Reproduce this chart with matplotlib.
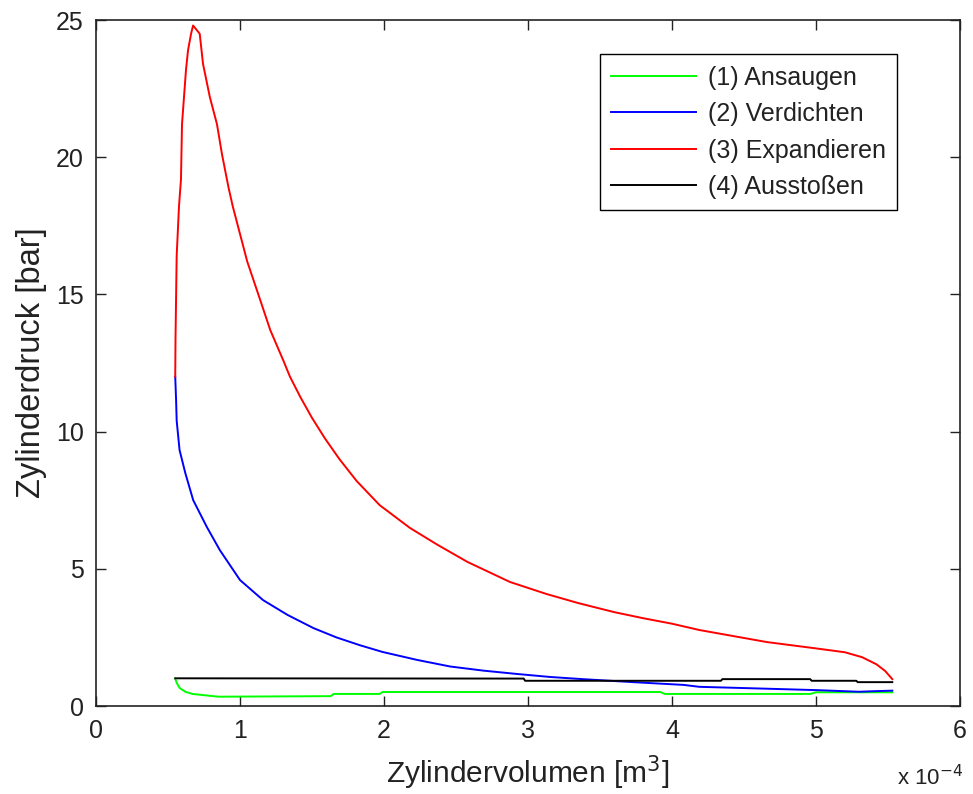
import matplotlib
matplotlib.use('Agg')
import matplotlib.pyplot as plt
import numpy as np

plt.rcParams['font.family'] = ['Liberation Sans', 'DejaVu Sans']

# ---------- Data (volume in 1e-4 m^3, pressure in bar) ----------
v_ansaugen = [0.55, 0.56, 0.58, 0.62, 0.67, 0.85, 1.63, 1.65, 1.97, 1.99,
              3.92, 3.95, 4.96, 5.00, 5.53]
p_ansaugen = [1.00, 0.85, 0.66, 0.52, 0.44, 0.34, 0.36, 0.44, 0.44, 0.51,
              0.51, 0.44, 0.44, 0.50, 0.50]

v_verdichten = [5.53, 5.40, 5.30, 5.00, 4.60, 4.19, 4.08, 3.73, 3.38, 3.15,
                2.92, 2.69, 2.46, 2.23, 1.99, 1.83, 1.67, 1.51, 1.33, 1.16,
                1.00, 0.86, 0.77, 0.675, 0.62, 0.58, 0.56, 0.556, 0.55]
p_verdichten = [0.56, 0.54, 0.52, 0.58, 0.64, 0.70, 0.77, 0.87, 0.98, 1.06,
                1.17, 1.29, 1.44, 1.68, 1.97, 2.22, 2.50, 2.84, 3.32, 3.86,
                4.59, 5.68, 6.52, 7.50, 8.49, 9.33, 10.4, 11.15, 12.0]

v_expandieren = [0.55, 0.552, 0.56, 0.576, 0.59, 0.597, 0.611, 0.625, 0.639,
                 0.66, 0.674, 0.72, 0.743, 0.79, 0.84, 0.875, 0.92, 0.95, 1.00,
                 1.05, 1.14, 1.21, 1.30, 1.347, 1.42, 1.50, 1.59, 1.69, 1.81,
                 1.97, 2.18, 2.37, 2.58, 2.875, 3.13, 3.35, 3.60, 3.80, 4.00,
                 4.19, 4.66, 5.00, 5.20, 5.32, 5.42, 5.48, 5.53]
p_expandieren = [12.0, 13.4, 16.4, 18.2, 19.2, 21.2, 22.2, 23.2, 23.9,
                 24.5, 24.8, 24.5, 23.4, 22.2, 21.2, 20.1, 18.9, 18.2, 17.2,
                 16.2, 14.8, 13.7, 12.6, 12.0, 11.25, 10.5, 9.75, 9.0, 8.2,
                 7.32, 6.49, 5.88, 5.25, 4.52, 4.08, 3.75, 3.42, 3.2, 3.0,
                 2.77, 2.33, 2.10, 1.96, 1.78, 1.52, 1.28, 0.98]

v_ausstossen = [5.53, 5.29, 5.28, 4.97, 4.96, 4.35, 4.34, 2.98, 2.97, 0.55]
p_ausstossen = [0.87, 0.87, 0.92, 0.92, 0.98, 0.98, 0.92, 0.92, 1.00, 1.01]

labels = ['(1) Ansaugen', '(2) Verdichten', '(3) Expandieren', '(4) Ausstoßen']
colors = ['#00ff00', '#0000ff', '#ff0000', '#000000']

# ---------- Plot ----------
fig = plt.figure(figsize=(9.73, 7.94), dpi=100)
ax = fig.add_axes([0.0987, 0.1108, 0.8879, 0.864])

series = [(v_ansaugen, p_ansaugen), (v_verdichten, p_verdichten),
          (v_expandieren, p_expandieren), (v_ausstossen, p_ausstossen)]
for (v, p), lab, col in zip(series, labels, colors):
    ax.plot(v, p, color=col, linewidth=1.4, label=lab)

ax.set_xlim(0, 6)
ax.set_ylim(0, 25)
ax.set_xticks(np.arange(0, 7, 1))
ax.set_yticks(np.arange(0, 30, 5))
ax.tick_params(direction='in', length=7, width=1, top=True, right=True,
               labelsize=18, colors='#222222', pad=9)
for s in ax.spines.values():
    s.set_linewidth(1.2)
    s.set_color('#222222')

ax.set_xlabel('Zylindervolumen [m$^3$]', fontsize=21.5, labelpad=8, color='#222222')
ax.set_ylabel('Zylinderdruck [bar]', fontsize=23.5, labelpad=6, color='#222222')
ax.text(1.0035, -0.115, 'x 10$^{-4}$', transform=ax.transAxes, ha='right',
        va='baseline', fontsize=16, color='#222222')

leg = ax.legend(loc='upper right', bbox_to_anchor=(0.927, 0.950), fontsize=18,
                frameon=True, fancybox=False, framealpha=1, edgecolor='black',
                handlelength=3.4, handletextpad=0.45, borderpad=0.45,
                labelspacing=0.5, borderaxespad=0)
leg.get_frame().set_linewidth(1.0)
for t in leg.get_texts():
    t.set_color('#222222')

fig.savefig('out.png', dpi=100)
